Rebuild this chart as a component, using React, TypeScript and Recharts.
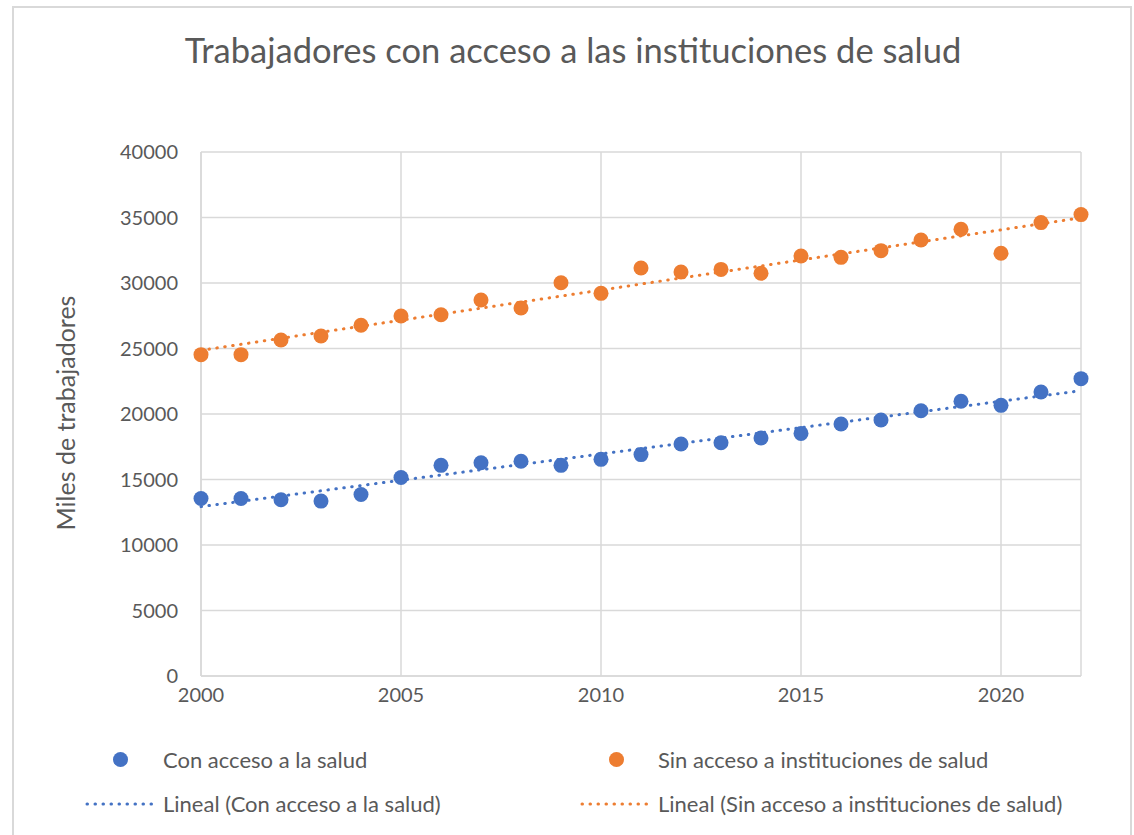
import React from 'react';
import { ScatterChart, Scatter, XAxis, YAxis, CartesianGrid } from 'recharts';

const years = [2000, 2001, 2002, 2003, 2004, 2005, 2006, 2007, 2008, 2009, 2010, 2011, 2012, 2013, 2014, 2015, 2016, 2017, 2018, 2019, 2020, 2021, 2022];
const conAcceso = [13550, 13550, 13450, 13350, 13850, 15150, 16080, 16280, 16390, 16080, 16540, 16900, 17710, 17810, 18170, 18520, 19240, 19540, 20250, 20970, 20660, 21680, 22700];
const sinAcceso = [24530, 24530, 25650, 25950, 26770, 27480, 27580, 28700, 28090, 30020, 29210, 31140, 30840, 31040, 30740, 32060, 31960, 32470, 33280, 34100, 32270, 34610, 35220];
const trendYears = [2000, 2022];
const trendCon = [12930, 21780];
const trendSin = [24860, 34980];
const xTicks = [2000, 2005, 2010, 2015, 2020];
const yTicks = [0, 5000, 10000, 15000, 20000, 25000, 30000, 35000, 40000];

const BLUE = '#4472C4';
const ORANGE = '#ED7D31';
const TEXT = '#595959';
const FONT = 'Lato, "Open Sans", sans-serif';

const conData = years.map((y, i) => ({ x: y, y: conAcceso[i] }));
const sinData = years.map((y, i) => ({ x: y, y: sinAcceso[i] }));
const trendConData = trendYears.map((y, i) => ({ x: y, y: trendCon[i] }));
const trendSinData = trendYears.map((y, i) => ({ x: y, y: trendSin[i] }));

const Dot = (color: string) => (props: any) => (
  <circle cx={props.cx} cy={props.cy} r={7.5} fill={color} />
);
const Empty = () => <g />;

const legendText: React.CSSProperties = { fontFamily: FONT, fontSize: 22, color: TEXT, position: 'absolute', whiteSpace: 'nowrap', lineHeight: '26px' };

const CustomLegend = () => (
  <div style={{ position: 'absolute', left: 0, top: 748, width: 1134, height: 80 }}>
    <div style={{ position: 'absolute', left: 113, top: 4, width: 15, height: 15, borderRadius: 8, background: BLUE }} />
    <div style={{ ...legendText, left: 163, top: -1 }}>Con acceso a la salud</div>
    <div style={{ position: 'absolute', left: 609, top: 4, width: 15, height: 15, borderRadius: 8, background: ORANGE }} />
    <div style={{ ...legendText, left: 658, top: -1 }}>Sin acceso a instituciones de salud</div>
    <svg style={{ position: 'absolute', left: 84, top: 53 }} width={74} height={6}>
      <line x1={3} y1={3} x2={70} y2={3} stroke={BLUE} strokeWidth={3} strokeDasharray="0.5 7.5" strokeLinecap="round" />
    </svg>
    <div style={{ ...legendText, left: 163, top: 43 }}>Lineal (Con acceso a la salud)</div>
    <svg style={{ position: 'absolute', left: 579, top: 53 }} width={74} height={6}>
      <line x1={3} y1={3} x2={70} y2={3} stroke={ORANGE} strokeWidth={3} strokeDasharray="0.5 7.5" strokeLinecap="round" />
    </svg>
    <div style={{ ...legendText, left: 658, top: 43 }}>Lineal (Sin acceso a instituciones de salud)</div>
  </div>
);

export default function App() {
  return (
    <div style={{ position: 'absolute', left: 0, top: 0, width: 1134, height: 835, background: '#fff', overflow: 'hidden' }}>
      <div style={{ position: 'absolute', left: 12, top: 6, width: 1120, height: 900, border: '2px solid #d9d9d9', boxSizing: 'border-box' }} />
      <div style={{ position: 'absolute', left: 0, top: 29, width: 1146, textAlign: 'center', fontFamily: FONT, fontSize: 34.5, color: TEXT, whiteSpace: 'nowrap' }}>
        Trabajadores con acceso a las instituciones de salud
      </div>
      <div style={{ position: 'absolute', left: 65, top: 413, transform: 'translate(-50%, -50%) rotate(-90deg)', fontFamily: FONT, fontSize: 25, color: TEXT, whiteSpace: 'nowrap' }}>
        Miles de trabajadores
      </div>
      <div style={{ position: 'absolute', left: 0, top: 0 }}>
        <ScatterChart width={1134} height={835} margin={{ top: 152, left: 141, right: 53, bottom: 129 }}>
          <CartesianGrid stroke="#d9d9d9" strokeWidth={1.5} />
          <XAxis
            type="number"
            dataKey="x"
            domain={[2000, 2022]}
            ticks={xTicks}
            interval={0}
            height={30}
            tickSize={0}
            tickMargin={12}
            axisLine={{ stroke: '#d9d9d9', strokeWidth: 1.5 }}
            tick={{ fill: TEXT, fontSize: 20, fontFamily: FONT }}
          />
          <YAxis
            type="number"
            dataKey="y"
            domain={[0, 40000]}
            ticks={yTicks}
            interval={0}
            width={60}
            tickSize={0}
            tickMargin={23}
            axisLine={{ stroke: '#d9d9d9', strokeWidth: 1.5 }}
            tick={{ fill: TEXT, fontSize: 20, fontFamily: FONT }}
          />
          <Scatter name="Con acceso a la salud" data={conData} fill={BLUE} shape={Dot(BLUE)} isAnimationActive={false} />
          <Scatter name="Sin acceso a instituciones de salud" data={sinData} fill={ORANGE} shape={Dot(ORANGE)} isAnimationActive={false} />
          <Scatter name="Lineal (Con acceso a la salud)" data={trendConData} fill={BLUE} shape={Empty} line={{ stroke: BLUE, strokeWidth: 3, strokeDasharray: '0.5 7.5', strokeLinecap: 'round' }} isAnimationActive={false} />
          <Scatter name="Lineal (Sin acceso a instituciones de salud)" data={trendSinData} fill={ORANGE} shape={Empty} line={{ stroke: ORANGE, strokeWidth: 3, strokeDasharray: '0.5 7.5', strokeLinecap: 'round' }} isAnimationActive={false} />
        </ScatterChart>
      </div>
      <CustomLegend />
    </div>
  );
}
